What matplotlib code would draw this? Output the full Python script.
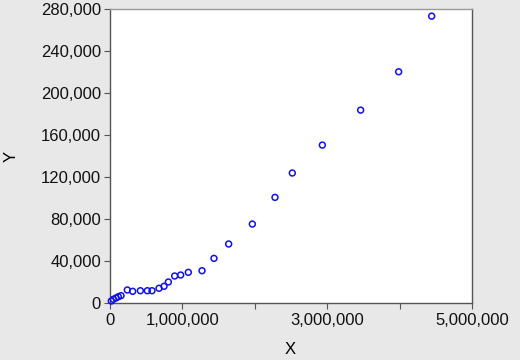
import matplotlib
matplotlib.use("Agg")
import matplotlib.pyplot as plt
from matplotlib.ticker import FuncFormatter, MultipleLocator

# data
x_vals = [18000, 46000, 83000, 115000, 152000, 239000, 313000, 419000, 516000,
          580000, 677000, 746000, 806000, 893000, 976000, 1082000, 1271000,
          1436000, 1639000, 1966000, 2279000, 2518000, 2933000, 3462000,
          3987000, 4443000]
y_vals = [1900, 3500, 4800, 6000, 7000, 12400, 11100, 11700, 11700,
          11700, 14000, 15900, 20000, 25700, 26650, 29200, 30750,
          42500, 56200, 75200, 100600, 123800, 150400, 183700,
          220200, 273200]
x_ticks = [0, 1000000, 2000000, 3000000, 4000000, 5000000]
x_labels = ['0', '1,000,000', '', '3,000,000', '', '5,000,000']

plt.rcParams['font.family'] = ['Liberation Sans', 'DejaVu Sans']

fig = plt.figure(figsize=(5.2, 3.6), dpi=100, facecolor='#e8e8e8')
ax = fig.add_axes([110/520, 1 - 303/360, 362/520, 294/360])
ax.set_facecolor('white')

ax.scatter(x_vals, y_vals, s=18, facecolors='none', edgecolors='#1010f0',
           linewidths=1.1, clip_on=False, zorder=3)

ax.set_xlim(0, 5000000)
ax.set_ylim(0, 280000)
ax.set_xticks(x_ticks)
ax.set_xticklabels(x_labels)
ax.yaxis.set_major_locator(MultipleLocator(40000))
ax.yaxis.set_major_formatter(FuncFormatter(lambda v, p: f'{int(v):,}'))

for s in ax.spines.values():
    s.set_color('#555555')
    s.set_linewidth(1.0)
ax.spines['top'].set_color('#999999')

ax.tick_params(direction='out', length=4, width=0.8, color='#555555',
               labelsize=12, labelcolor='#111111', pad=2.5)
ax.tick_params(axis='x', pad=3.5)

# axis titles placed by hand, as in the reference
fig.text(290/520, 1 - 350/360, 'X', fontsize=12, ha='center', va='center')
fig.text(11/520, 1 - 156/360, 'Y', fontsize=12, rotation=90,
         ha='center', va='center')

fig.savefig('out.png', dpi=100, facecolor=fig.get_facecolor())
